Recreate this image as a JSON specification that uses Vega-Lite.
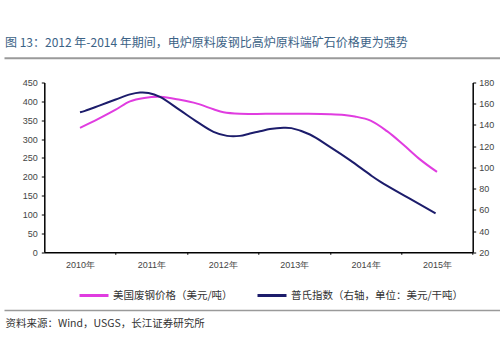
{
  "$schema": "https://vega.github.io/schema/vega-lite/v6.json",
  "width": 428.4,
  "height": 169.8,
  "autosize": {"type": "none"},
  "padding": {"left": 44.3, "top": 82.5, "right": 27.3, "bottom": 109.7},
  "background": "white",
  "config": {"font": "Noto Sans CJK SC", "view": {"stroke": null}},
  "title": {
    "text": "图 13：2012 年-2014 年期间，电炉原料废钢比高炉原料端矿石价格更为强势",
    "anchor": "start",
    "frame": "bounds",
    "fontSize": 12,
    "fontWeight": "normal",
    "color": "#3b6286",
    "baseline": "alphabetic",
    "offset": -1
  },
  "datasets": {
    "scrap": [
      {"year": 2010.00, "value": 330, "series": "美国废钢价格（美元/吨）"},
      {"year": 2010.25, "value": 353, "series": "美国废钢价格（美元/吨）"},
      {"year": 2010.50, "value": 378, "series": "美国废钢价格（美元/吨）"},
      {"year": 2010.70, "value": 400, "series": "美国废钢价格（美元/吨）"},
      {"year": 2010.90, "value": 409, "series": "美国废钢价格（美元/吨）"},
      {"year": 2011.12, "value": 412, "series": "美国废钢价格（美元/吨）"},
      {"year": 2011.40, "value": 404, "series": "美国废钢价格（美元/吨）"},
      {"year": 2011.64, "value": 394, "series": "美国废钢价格（美元/吨）"},
      {"year": 2011.87, "value": 379, "series": "美国废钢价格（美元/吨）"},
      {"year": 2012.01, "value": 371, "series": "美国废钢价格（美元/吨）"},
      {"year": 2012.24, "value": 367, "series": "美国废钢价格（美元/吨）"},
      {"year": 2012.60, "value": 367, "series": "美国废钢价格（美元/吨）"},
      {"year": 2012.90, "value": 367, "series": "美国废钢价格（美元/吨）"},
      {"year": 2013.20, "value": 367, "series": "美国废钢价格（美元/吨）"},
      {"year": 2013.50, "value": 366, "series": "美国废钢价格（美元/吨）"},
      {"year": 2013.70, "value": 364, "series": "美国废钢价格（美元/吨）"},
      {"year": 2013.85, "value": 360, "series": "美国废钢价格（美元/吨）"},
      {"year": 2014.07, "value": 349, "series": "美国废钢价格（美元/吨）"},
      {"year": 2014.30, "value": 321, "series": "美国废钢价格（美元/吨）"},
      {"year": 2014.53, "value": 285, "series": "美国废钢价格（美元/吨）"},
      {"year": 2014.77, "value": 245, "series": "美国废钢价格（美元/吨）"},
      {"year": 2015.00, "value": 213, "series": "美国废钢价格（美元/吨）"}
    ],
    "platts": [
      {"year": 2010.00, "value": 152.0, "series": "普氏指数（右轴，单位：美元/干吨）"},
      {"year": 2010.07, "value": 153.3, "series": "普氏指数（右轴，单位：美元/干吨）"},
      {"year": 2010.28, "value": 158.5, "series": "普氏指数（右轴，单位：美元/干吨）"},
      {"year": 2010.50, "value": 164.0, "series": "普氏指数（右轴，单位：美元/干吨）"},
      {"year": 2010.70, "value": 168.8, "series": "普氏指数（右轴，单位：美元/干吨）"},
      {"year": 2010.84, "value": 170.6, "series": "普氏指数（右轴，单位：美元/干吨）"},
      {"year": 2010.96, "value": 170.2, "series": "普氏指数（右轴，单位：美元/干吨）"},
      {"year": 2011.12, "value": 166.4, "series": "普氏指数（右轴，单位：美元/干吨）"},
      {"year": 2011.40, "value": 153.9, "series": "普氏指数（右轴，单位：美元/干吨）"},
      {"year": 2011.64, "value": 142.9, "series": "普氏指数（右轴，单位：美元/干吨）"},
      {"year": 2011.87, "value": 133.5, "series": "普氏指数（右轴，单位：美元/干吨）"},
      {"year": 2012.06, "value": 129.7, "series": "普氏指数（右轴，单位：美元/干吨）"},
      {"year": 2012.24, "value": 129.7, "series": "普氏指数（右轴，单位：美元/干吨）"},
      {"year": 2012.38, "value": 132.0, "series": "普氏指数（右轴，单位：美元/干吨）"},
      {"year": 2012.52, "value": 134.0, "series": "普氏指数（右轴，单位：美元/干吨）"},
      {"year": 2012.66, "value": 136.2, "series": "普氏指数（右轴，单位：美元/干吨）"},
      {"year": 2012.85, "value": 137.4, "series": "普氏指数（右轴，单位：美元/干吨）"},
      {"year": 2012.96, "value": 137.0, "series": "普氏指数（右轴，单位：美元/干吨）"},
      {"year": 2013.22, "value": 131.0, "series": "普氏指数（右轴，单位：美元/干吨）"},
      {"year": 2013.50, "value": 119.4, "series": "普氏指数（右轴，单位：美元/干吨）"},
      {"year": 2013.78, "value": 106.9, "series": "普氏指数（右轴，单位：美元/干吨）"},
      {"year": 2014.07, "value": 92.7, "series": "普氏指数（右轴，单位：美元/干吨）"},
      {"year": 2014.21, "value": 86.4, "series": "普氏指数（右轴，单位：美元/干吨）"},
      {"year": 2014.60, "value": 71.2, "series": "普氏指数（右轴，单位：美元/干吨）"},
      {"year": 2014.98, "value": 56.7, "series": "普氏指数（右轴，单位：美元/干吨）"}
    ]
  },
  "layer": [
    {
      "data": {"name": "scrap"},
      "mark": {"type": "line", "interpolate": "catmull-rom", "strokeWidth": 2},
      "encoding": {
        "x": {
          "field": "year",
          "type": "quantitative",
          "scale": {"domain": [2009.5, 2015.5], "nice": false, "zero": false},
          "axis": {
            "orient": "bottom",
            "values": [2010, 2011, 2012, 2013, 2014, 2015],
            "labelExpr": "datum.value + '年'",
            "tickOffset": 35.7,
            "labelOffset": -35.7,
            "tickSize": 2,
            "tickColor": "#000",
            "domainColor": "#000",
            "domainWidth": 1.5,
            "labelFont": "Liberation Sans",
            "labelFontSize": 9,
            "labelColor": "#444",
            "labelPadding": 6,
            "grid": false,
            "title": "资料来源：Wind，USGS，长江证券研究所",
            "titleX": -39.3,
            "titleY": 70.7,
            "titleAlign": "left",
            "titleAnchor": null,
            "titleBaseline": "middle",
            "titleFontSize": 10.5,
            "titleFontWeight": "normal",
            "titleColor": "#333"
          }
        },
        "y": {
          "field": "value",
          "type": "quantitative",
          "scale": {"domain": [0, 450], "nice": false},
          "axis": {
            "orient": "left",
            "values": [0, 50, 100, 150, 200, 250, 300, 350, 400, 450],
            "tickSize": 3,
            "tickColor": "#000",
            "domainColor": "#000",
            "domainWidth": 1.5,
            "labelFont": "Liberation Sans",
            "labelFontSize": 9,
            "labelColor": "#444",
            "labelPadding": 4,
            "grid": false,
            "title": null
          }
        },
        "color": {
          "field": "series",
          "type": "nominal",
          "scale": {
            "domain": ["美国废钢价格（美元/吨）", "普氏指数（右轴，单位：美元/干吨）"],
            "range": ["#e03ce0", "#1c1c6b"]
          },
          "legend": {
            "orient": "none",
            "legendX": 33.7,
            "legendY": 197,
            "direction": "horizontal",
            "title": null,
            "symbolType": "stroke",
            "symbolSize": 841,
            "symbolStrokeWidth": 3,
            "labelFontSize": 10.5,
            "labelColor": "#333",
            "labelOffset": 3,
            "labelLimit": 400,
            "columnPadding": 18
          }
        }
      }
    },
    {
      "data": {"name": "platts"},
      "mark": {"type": "line", "interpolate": "catmull-rom", "strokeWidth": 2},
      "encoding": {
        "x": {
          "field": "year",
          "type": "quantitative",
          "scale": {"domain": [2009.5, 2015.5], "nice": false, "zero": false},
          "axis": null
        },
        "y": {
          "field": "value",
          "type": "quantitative",
          "scale": {"domain": [20, 180], "nice": false, "zero": false},
          "axis": {
            "orient": "right",
            "values": [20, 40, 60, 80, 100, 120, 140, 160, 180],
            "tickSize": 3,
            "tickColor": "#000",
            "domainColor": "#000",
            "domainWidth": 1.5,
            "labelFont": "Liberation Sans",
            "labelFontSize": 9,
            "labelColor": "#444",
            "labelPadding": 3,
            "grid": false,
            "title": null
          }
        },
        "color": {"field": "series", "type": "nominal"}
      }
    },
    {
      "data": {"name": "scrap"},
      "mark": {"type": "line", "opacity": 0},
      "encoding": {
        "x": {
          "field": "year",
          "type": "quantitative",
          "scale": {"domain": [2009.5, 2015.5], "nice": false, "zero": false, "range": [-40.3, 455.7]},
          "axis": {
            "orient": "top",
            "offset": 24.8,
            "labels": false,
            "ticks": false,
            "grid": false,
            "domainColor": "#9a9a9a",
            "domainWidth": 2,
            "title": null
          }
        },
        "y": {"field": "value", "type": "quantitative", "scale": {"domain": [0, 450]}, "axis": null}
      }
    },
    {
      "data": {"name": "scrap"},
      "mark": {"type": "line", "opacity": 0},
      "encoding": {
        "x": {
          "field": "year",
          "type": "quantitative",
          "scale": {"domain": [2009.5, 2015.5], "nice": false, "zero": false, "range": [-40.3, 455.7]},
          "axis": {
            "orient": "bottom",
            "offset": 57.7,
            "labels": false,
            "ticks": false,
            "grid": false,
            "domainColor": "#9a9a9a",
            "domainWidth": 1.5,
            "title": null
          }
        },
        "y": {"field": "value", "type": "quantitative", "scale": {"domain": [0, 450]}, "axis": null}
      }
    }
  ],
  "resolve": {
    "scale": {"x": "independent", "y": "independent", "color": "shared"},
    "axis": {"x": "independent", "y": "independent"}
  }
}
